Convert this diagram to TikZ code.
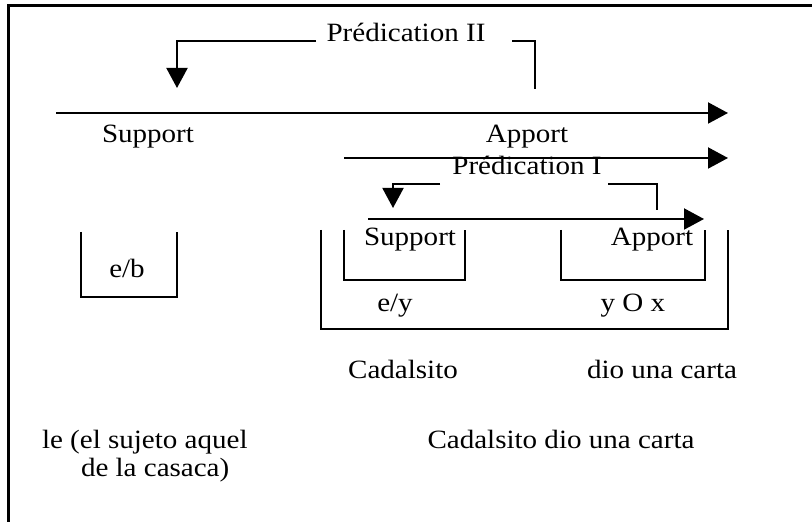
\documentclass[tikz,border=0pt]{standalone}
\usepackage{fontspec}
\setmainfont{Liberation Serif}[FakeStretch=1.1]
\usetikzlibrary{arrows.meta}

\begin{document}
\begin{tikzpicture}[x=0.5pt,y=-0.5pt,line width=1pt,
    tip/.style={-{Triangle[length=10pt,width=10.5pt]}},
    word/.style={inner sep=0pt,anchor=base,font=\fontsize{13.2}{13.5}\selectfont}]
  \useasboundingbox (0,0) rectangle (812,522);
  \draw[line width=1.5pt] (8,522) -- (8,6) -- (812,6);

  \node[word] (predII) at (406,42) {Prédication II};
  \coordinate (iiA) at (316,41);
  \coordinate (iiB) at (177,88);
  \coordinate (iiC) at (512,41);
  \coordinate (iiD) at (535,89);
  \draw[tip] (iiA) -| (iiB);
  \draw (iiC) -| (iiD);

  \coordinate (mainL) at (56,113);
  \coordinate (mainR) at (728,113);
  \draw[tip] (mainL) -- (mainR);
  \node[word] (supII) at (148,143) {Support};
  \node[word] (appII) at (527,143) {Apport};

  \coordinate (midL) at (344,158);
  \coordinate (midR) at (728,158);
  \draw[tip] (midL) -- (midR);
  \node[word] (predI) at (527,175) {Prédication I};
  \coordinate (iA) at (440,184);
  \coordinate (iB) at (393,208);
  \coordinate (iC) at (608,184);
  \coordinate (iD) at (657,210);
  \draw[tip] (iA) -| (iB);
  \draw (iC) -| (iD);

  \coordinate (lowL) at (368,219);
  \coordinate (lowR) at (704,219);
  \draw[tip] (lowL) -- (lowR);

  \draw (344,230) |- (465,280) -- (465,230);
  \node[word] (supI) at (410,246) {Support};
  \draw (561,230) |- (705,280) -- (705,230);
  \node[word] (appI) at (652,246) {Apport};
  \draw (321,230) |- (728,329) -- (728,230);
  \node[word] (ey) at (395,312) {e/y};
  \node[word] (yox) at (633,312) {y O x};

  \draw (81,232) |- (177,297) -- (177,232);
  \node[word] (eb) at (127,278) {e/b};

  \node[word] (cad) at (403,379) {Cadalsito};
  \node[word] (dio) at (662,379) {dio una carta};
  \node[word,anchor=base west,align=left] (le) at (41,476) {le (el sujeto aquel\\\hspace*{19.5pt}de la casaca)};
  \node[word] (whole) at (561,449) {Cadalsito dio una carta};
\end{tikzpicture}
\end{document}
